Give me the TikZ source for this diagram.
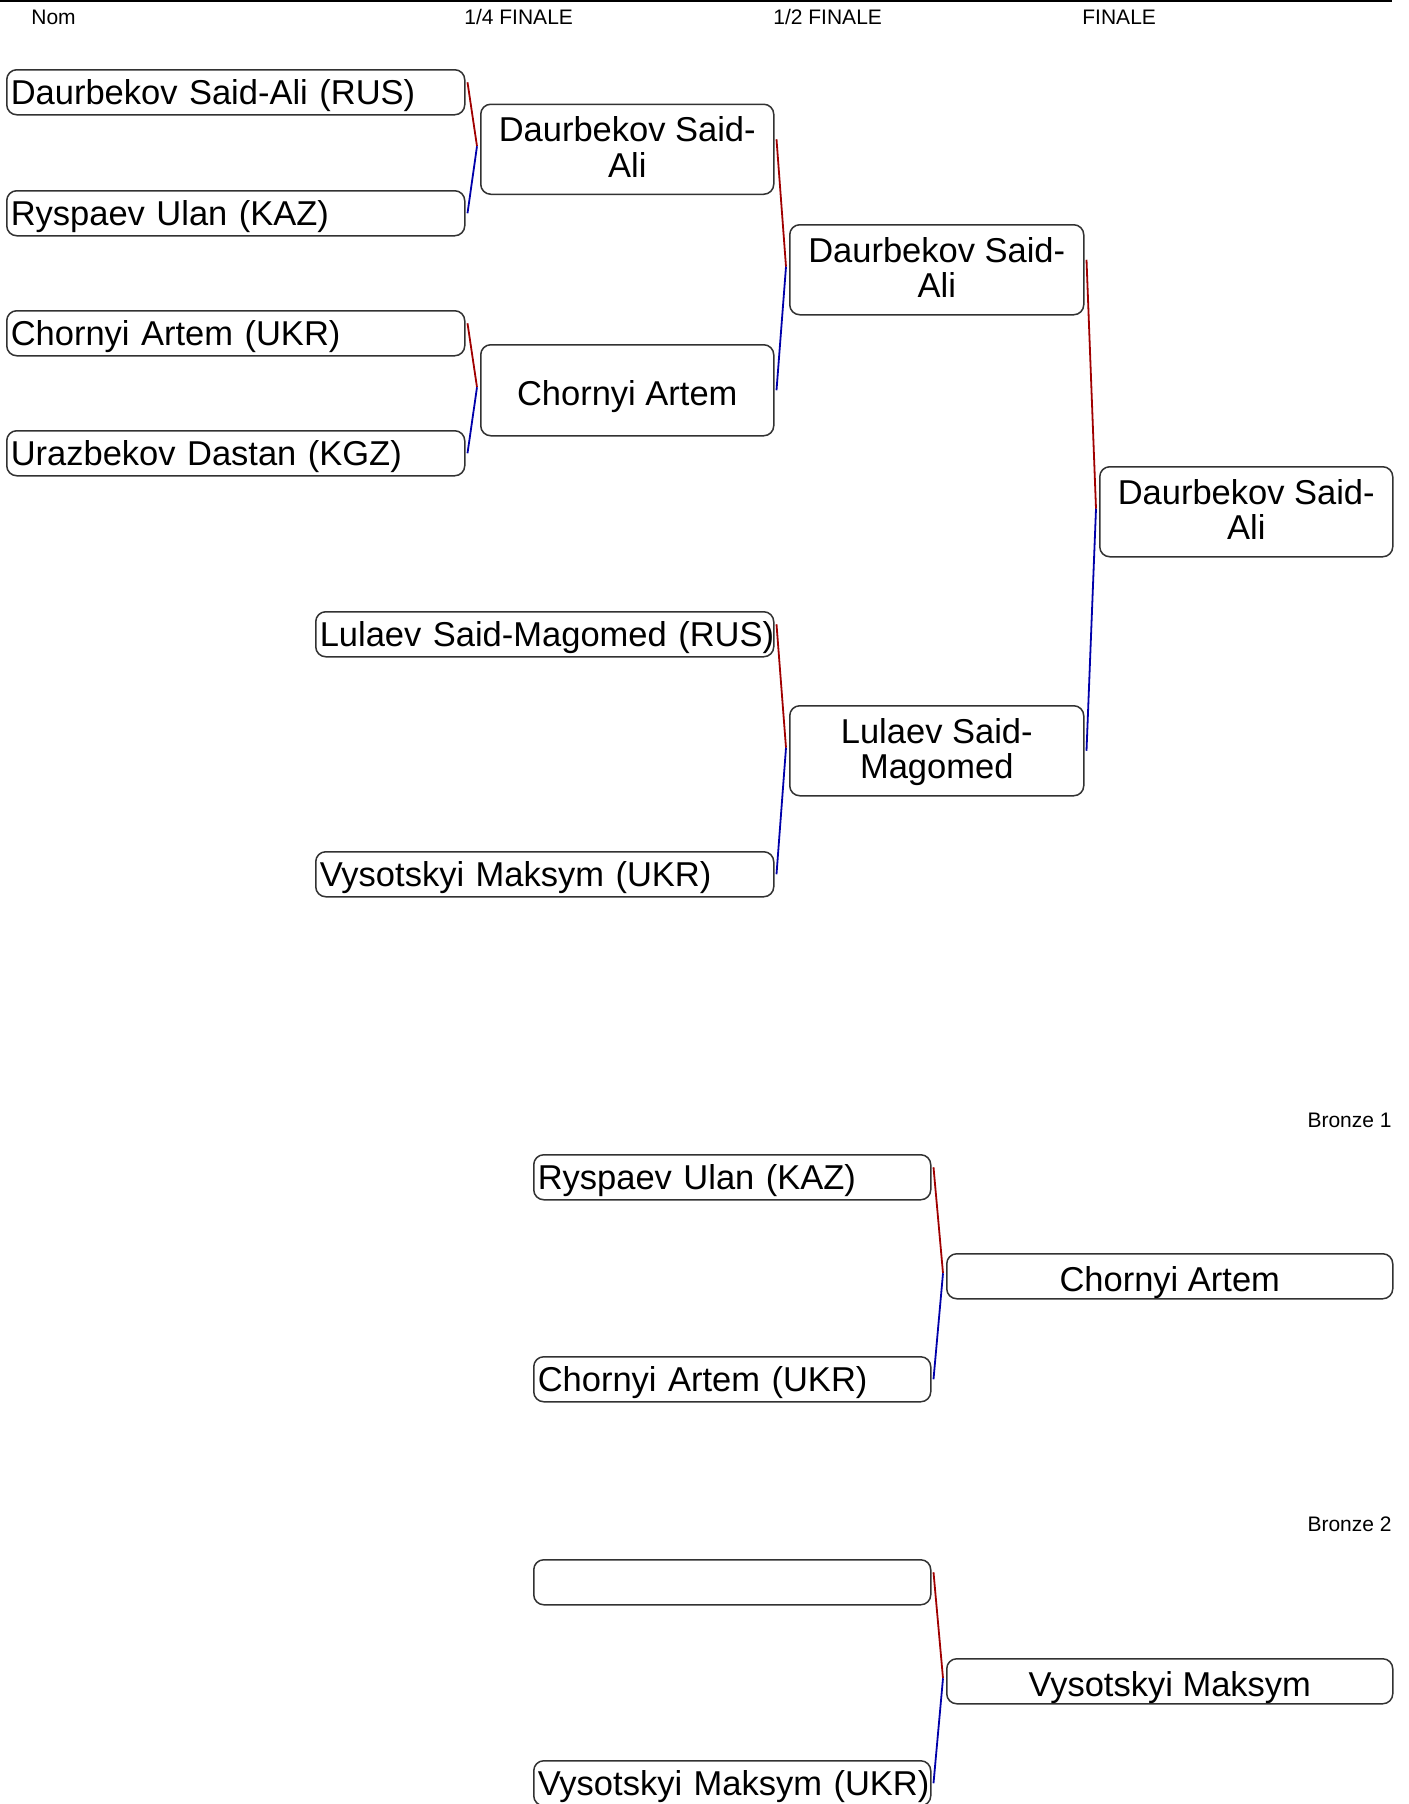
\documentclass[tikz,border=0pt]{standalone}
\usepackage{fontspec}
\setmainfont{Liberation Sans}
\usetikzlibrary{calc}
\definecolor{boxgray}{RGB}{50,50,50}
\definecolor{wred}{RGB}{160,0,0}
\definecolor{wblue}{RGB}{0,0,170}
\newcommand\twol[2]{\begin{tabular}[b]{@{}c@{}}#1\\#2\end{tabular}}
\newcommand\bracketpair[3]{%
  \draw[redline] ($(#1.east)+(2,-10)$) -- ($(#3.west)+(-3,-3)$);
  \draw[blueline] ($(#3.west)+(-3,-3)$) -- ($(#2.east)+(2,0)$);}
\begin{document}
\begin{tikzpicture}[x=0.5pt,y=-0.5pt,
  box/.style={draw=boxgray, line width=0.75pt, rounded corners=5pt, inner xsep=2pt, inner ysep=0pt,
    font=\fontsize{17.25}{17.5}\selectfont, text height=12.8pt, text depth=0.3pt,
    minimum height=22.5pt, anchor=north west},
  lbox/.style={box, text width=#1, align=left},
  cbox/.style={box, text height=15pt, text depth=0pt},
  tbox/.style={box, minimum height=45pt, text height=29pt, text depth=1pt},
  hdr/.style={inner sep=0pt, font=\fontsize{10.5}{12}\selectfont, text height=7.5pt, text depth=0pt},
  redline/.style={draw=wred, line width=0.9pt},
  blueline/.style={draw=wblue, line width=0.9pt}]
\useasboundingbox (0,0) rectangle (1408,1804);
\fill[white] (0,0) rectangle (1408,1804);
\draw[line width=1pt] (0,1) -- (1392,1);
% headers
\node[hdr, anchor=west] (hnom) at (31,17.5) {Nom};
\node[hdr, anchor=west] (hqf) at (464,17.5) {1/4 FINALE};
\node[hdr, anchor=west] (hsf) at (773,17.5) {1/2 FINALE};
\node[hdr, anchor=west] (hf) at (1082,17.5) {FINALE};
% first round
\node[lbox=225pt] (p1) at (6,69) {\mbox{Daurbekov Said-Ali (RUS)}};
\node[lbox=225pt] (p2) at (6,190) {\mbox{Ryspaev Ulan (KAZ)}};
\node[lbox=225pt] (p3) at (6,310) {\mbox{Chornyi Artem (UKR)}};
\node[lbox=225pt] (p4) at (6,430) {\mbox{Urazbekov Dastan (KGZ)}};
\node[lbox=225pt] (p5) at (315,611) {\mbox{Lulaev Said-Magomed (RUS)}};
\node[lbox=225pt] (p6) at (315,851) {\mbox{Vysotskyi Maksym (UKR)}};
% quarter final winners
\node[tbox, minimum width=146.5pt] (q1) at (480,103.5) {\twol{Daurbekov Said-}{Ali}};
\node[cbox, minimum width=146.5pt, minimum height=45.5pt] (q2) at (480,344) {Chornyi Artem};
% semi final winners
\node[tbox, minimum width=147pt] (s1) at (789,224) {\twol{Daurbekov Said-}{Ali}};
\node[tbox, minimum width=147pt] (s2) at (789,705) {\twol{Lulaev Said-}{Magomed}};
% final winner
\node[tbox, minimum width=146.5pt] (f1) at (1099,466) {\twol{Daurbekov Said-}{Ali}};
\bracketpair{p1}{p2}{q1}
\bracketpair{p3}{p4}{q2}
\bracketpair{q1}{q2}{s1}
\bracketpair{p5}{p6}{s2}
\bracketpair{s1}{s2}{f1}
% bronze 1
\node[hdr, anchor=east] (hb1) at (1392,1119.5) {Bronze 1};
\node[lbox=194.5pt] (b1a) at (533,1154) {\mbox{Ryspaev Ulan (KAZ)}};
\node[lbox=194.5pt] (b1b) at (533,1356) {\mbox{Chornyi Artem (UKR)}};
\node[cbox, minimum width=223pt] (b1r) at (946,1253) {Chornyi Artem};
\bracketpair{b1a}{b1b}{b1r}
% bronze 2
\node[hdr, anchor=east] (hb2) at (1392,1524) {Bronze 2};
\node[lbox=194.5pt] (b2a) at (533,1559) {\mbox{}};
\node[lbox=194.5pt] (b2b) at (533,1760) {\mbox{Vysotskyi Maksym (UKR)}};
\node[cbox, minimum width=223pt] (b2r) at (946,1658) {Vysotskyi Maksym};
\bracketpair{b2a}{b2b}{b2r}
\end{tikzpicture}
\end{document}
